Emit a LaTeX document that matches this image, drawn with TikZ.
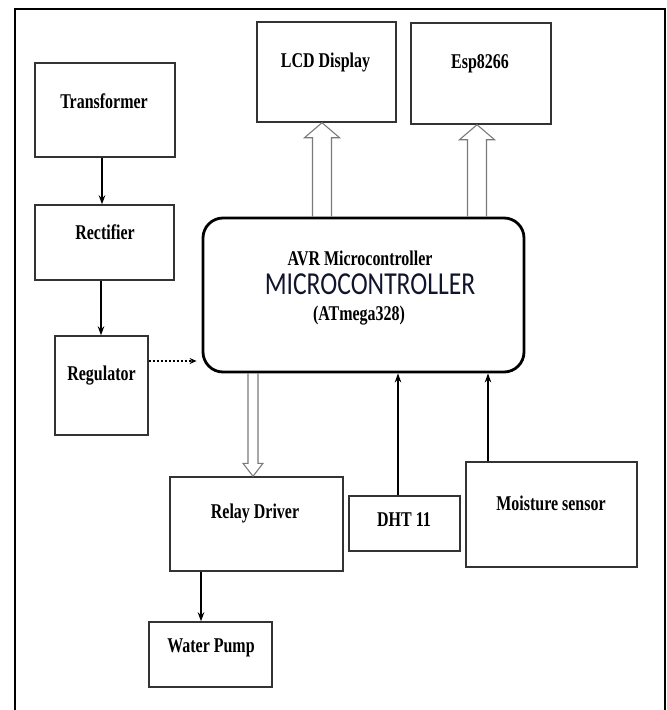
\documentclass[tikz,border=0pt]{standalone}
\usepackage{fontspec}
\setmainfont{Liberation Serif}[FakeStretch=0.76]
\newfontfamily\calfont{Carlito}[FakeStretch=0.8]
\usepackage{xcolor}
\usepackage{tikz}
\usetikzlibrary{arrows.meta,calc}
\definecolor{edge}{HTML}{333333}
\definecolor{hollowline}{HTML}{7A7A7A}
\definecolor{mcutext}{HTML}{10142C}
\tikzset{
  box/.style={draw=edge, line width=1.4pt, inner sep=0pt},
  mcubox/.style={draw=black, line width=2.8pt, rounded corners=20pt, inner sep=0pt},
  lab/.style={font=\fontsize{21}{25}\selectfont\bfseries, anchor=base, inner sep=0pt},
  biglab/.style={font=\calfont\fontsize{32}{38}\selectfont, text=mcutext, anchor=base, inner sep=0pt},
  arr/.style={line width=1.5pt, -{Stealth[length=9pt,width=6.5pt]}},
  dotarr/.style={line width=1.1pt, dash pattern=on 2pt off 2pt, -{Stealth[length=7pt,width=6pt]}},
  hollow/.style={draw=hollowline, line width=1.1pt, line join=miter},
}

\begin{document}
\begin{tikzpicture}[x=1pt,y=-1pt]
  \useasboundingbox (0,0) rectangle (667,710);
  \draw[line width=1.3pt] (15,710) -- (15,9) -- (665,9) -- (665,710);

  % power supply chain
  \node[box, minimum width=140, minimum height=94] (trans) at (105,110) {};
  \node[box, minimum width=139, minimum height=75] (rect) at (104.5,242.5) {};
  \node[box, minimum width=93, minimum height=99] (reg) at (101.5,385.5) {};
  \node[lab] (trans-l) at (104,108) {Transformer};
  \node[lab] (rect-l) at (105,239) {Rectifier};
  \node[lab] (reg-l) at (101.5,380) {Regulator};

  % controller and outputs
  \node[mcubox, minimum width=321, minimum height=154] (mcu) at (363.5,295) {};
  \node[lab] (mcu-l1) at (360,265) {AVR Microcontroller};
  \node[biglab] (mcu-l2) at (370,294) {MICROCONTROLLER};
  \node[lab] (mcu-l3) at (359,320) {(ATmega328)};

  \node[box, minimum width=139, minimum height=100] (lcd) at (326.5,72) {};
  \node[box, minimum width=140, minimum height=101] (esp) at (481,73.5) {};
  \node[lab] (lcd-l) at (325.5,67) {LCD Display};
  \node[lab] (esp-l) at (480,68) {Esp8266};

  % bottom row
  \node[box, minimum width=173, minimum height=94] (relay) at (256.5,524) {};
  \node[box, minimum width=111, minimum height=55] (dht) at (404.5,523.5) {};
  \node[box, minimum width=171, minimum height=105] (moist) at (551.5,514.5) {};
  \node[box, minimum width=123, minimum height=65] (pump) at (210.5,654.5) {};
  \node[lab] (relay-l) at (255,518) {Relay Driver};
  \node[lab] (dht-l) at (404,526) {DHT 11};
  \node[lab] (moist-l) at (551,510) {Moisture sensor};
  \node[lab] (pump-l) at (211,652) {Water Pump};

  % connectors
  \draw[arr] ([xshift=-3]trans.south) -- ([xshift=-3]trans.south |- rect.north);
  \draw[arr] ([xshift=-3.5]rect.south) -- ([xshift=-3.5]rect.south |- reg.north);
  \draw[dotarr, shorten >=5pt] ([yshift=24.5]reg.east) -- ([yshift=24.5]reg.east -| mcu.west);
  \draw[arr] ([xshift=-6.5]dht.north) -- ([xshift=-6.5]dht.north |- mcu.south);
  \draw[arr] ([xshift=-63.5]moist.north) -- ([xshift=-63.5]moist.north |- mcu.south);
  \draw[arr] ([xshift=-55.5]relay.south) -- ([xshift=-55.5]relay.south |- pump.north);

  \coordinate (lcdtip) at ([xshift=-4.5]lcd.south);
  \coordinate (esptip) at ([xshift=-4]esp.south);
  \coordinate (relaytip) at ([xshift=-3.5]relay.north);
  \draw[hollow] ([xshift=-9.5]lcdtip |- mcu.north) -- ([shift={(-9.5,15)}]lcdtip) -- ([shift={(-17.5,15)}]lcdtip)
    -- (lcdtip) -- ([shift={(17.5,15)}]lcdtip) -- ([shift={(9.5,15)}]lcdtip) -- ([xshift=9.5]lcdtip |- mcu.north);
  \draw[hollow] ([xshift=-9.5]esptip |- mcu.north) -- ([shift={(-9.5,15)}]esptip) -- ([shift={(-17.5,15)}]esptip)
    -- (esptip) -- ([shift={(17.5,15)}]esptip) -- ([shift={(9.5,15)}]esptip) -- ([xshift=9.5]esptip |- mcu.north);
  \draw[hollow] ([xshift=-5]relaytip |- mcu.south) -- ([shift={(-5,-13)}]relaytip) -- ([shift={(-10,-13)}]relaytip)
    -- (relaytip) -- ([shift={(10,-13)}]relaytip) -- ([shift={(5,-13)}]relaytip) -- ([xshift=5]relaytip |- mcu.south);
\end{tikzpicture}
\end{document}
